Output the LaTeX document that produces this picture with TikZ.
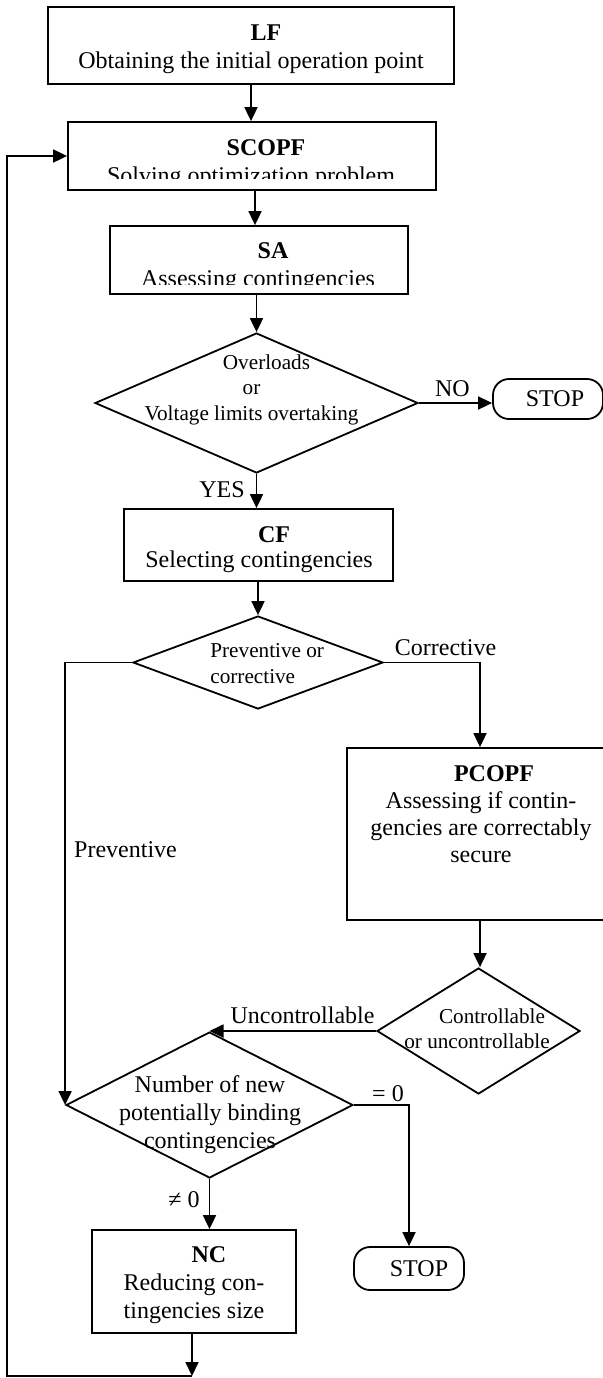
\documentclass[tikz,border=0pt]{standalone}
\usepackage{fontspec}
\setmainfont{Liberation Serif}
\usepackage{tikz}
\usetikzlibrary{positioning,calc,shapes.geometric,arrows.meta}

\begin{document}
\begin{tikzpicture}[x=0.5pt,y=-0.5pt,
		khung/.style={draw,line width=0.9pt,inner sep=0pt},
		thoi/.style={draw,diamond,line width=0.9pt,inner sep=0pt},
		dung/.style={draw,rounded corners=8pt,line width=0.9pt,inner sep=0pt,font=\fontsize{12}{14}\selectfont},
		chu/.style={font=\fontsize{12}{14}\selectfont,inner sep=0pt,align=center,anchor=base},
		chunho/.style={font=\fontsize{10.6}{12.6}\selectfont,inner sep=0pt,align=center,anchor=base},
		muiten/.style={line width=0.9pt,-{Triangle[length=7pt,width=6.5pt]}}]
			\useasboundingbox (0,0) rectangle (602,1378);
			
			% Khung
			\node[khung,minimum width=203pt,minimum height=38.5pt] (lf) at (251,45.5) {};
			\node[khung,minimum width=184pt,minimum height=34pt] (scopf) at (252,156) {};
			\node[khung,minimum width=149pt,minimum height=34pt] (sa) at (259,260) {};
			\node[khung,minimum width=134.5pt,minimum height=36pt] (cf) at (258.5,545) {};
			\node[khung,minimum width=133pt,minimum height=86pt] (pcopf) at (480,834) {};
			\node[khung,minimum width=102pt,minimum height=51.5pt] (nc) at (194,1281.5) {};
			
			% Hình thoi
			\node[thoi,minimum width=161.5pt,minimum height=70pt] (dm1) at (256.5,403) {};
			\node[thoi,minimum width=125pt,minimum height=46.5pt] (dm2) at (258,662.5) {};
			\node[thoi,minimum width=143.5pt,minimum height=73pt] (dm3) at (209.5,1105) {};
			\node[thoi,minimum width=101.5pt,minimum height=63pt] (dm4) at (478.5,1031) {};
			
			% Điểm dừng
			\node[dung,minimum width=55pt,minimum height=20pt] (stop1) at (548,399) {\hspace*{7pt}STOP};
			\node[dung,minimum width=55pt,minimum height=21.5pt] (stop2) at (409,1268.5) {\hspace*{10pt}STOP};
			
			% Chữ trong khung (neo ở dòng cuối)
			\node[chu] (lfT) at (251,68) {\hspace*{15pt}\textbf{LF}\\Obtaining the initial operation point};
			\begin{scope}
				\clip (60,100) rectangle (440,178);
				\node[chu] (scopfT) at (251,183) {\hspace*{15pt}\textbf{SCOPF}\\Solving optimization problem};
			\end{scope}
			\begin{scope}
				\clip (100,200) rectangle (420,284.5);
				\node[chu] (saT) at (258,286) {\hspace*{15pt}\textbf{SA}\\Assessing contingencies};
			\end{scope}
			\node[chu] (cfT) at (259,567) {\hspace*{15pt}\textbf{CF}\\[-1.5pt]Selecting contingencies};
			\node[chu,font=\fontsize{12}{13.5}\selectfont] (pcopfT) at (481,862) {\hspace*{13pt}\textbf{PCOPF}\\Assessing if contin-\\gencies are correctably\\secure};
			\node[chu] (ncT) at (194,1318) {\hspace*{15pt}\textbf{NC}\\Reducing con-\\tingencies size};
			
			% Chữ trong hình thoi
			\node[chunho] (dm1T) at (251.5,420) {\hspace*{15pt}Overloads\\or\\Voltage limits overtaking};
			\node[chunho,align=left,anchor=base west] (dm2T) at (210,683) {Preventive or\\corrective};
			\node[chu] (dm3T) at (210,1148) {Number of new\\potentially binding\\contingencies};
			\node[chunho] (dm4T) at (477,1048) {\hspace*{15pt}Controllable\\[-0.5pt]or uncontrollable};
			
			% Nhãn
			\node[chu] (lNo) at (452.5,396) {NO};
			\node[chu] (lYes) at (222,497) {YES};
			\node[chu] (lCor) at (445.5,655) {Corrective};
			\node[chu] (lPre) at (125.5,857) {Preventive};
			\node[chu] (lUnc) at (302.5,1023) {Uncontrollable};
			\node[chu] (lZero) at (388,1101) {= 0};
			\node[chu] (lNzero) at (184,1207) {≠ 0};
			
			% Mũi tên
			\draw[muiten] (lf.south) -- (lf.south |- scopf.north);
			\draw[muiten] ([xshift=1.5pt]scopf.south) -- ([xshift=1.5pt]scopf.south |- sa.north);
			\draw[muiten] (dm1.north |- sa.south) -- (dm1.north);
			\draw[muiten] (dm1.east) -- (dm1.east -| stop1.west);
			\draw[muiten] (dm1.south) -- (dm1.south |- cf.north);
			\draw[muiten] (dm2.north |- cf.south) -- (dm2.north);
			\draw[muiten] (dm2.west) -| (dm3.west);
			\draw[muiten] (dm2.east) -| (pcopf.north);
			\draw[muiten] (pcopf.south) -- (pcopf.south |- dm4.north);
			\draw[muiten] (dm4.west) -- (dm4.west -| dm3.north);
			\draw[muiten] (dm3.east) -| (stop2.north);
			\draw[muiten] (dm3.south) -- (dm3.south |- nc.north);
			
			% Vòng lặp về SCOPF
			\coordinate (vong) at (192,1376);
			\coordinate (goc) at (7,1376);
			\draw[muiten] (nc.south -| vong) -- (vong);
			\draw[muiten] (vong) -- (goc) |- (scopf.west);
		\end{tikzpicture}
\end{document}
